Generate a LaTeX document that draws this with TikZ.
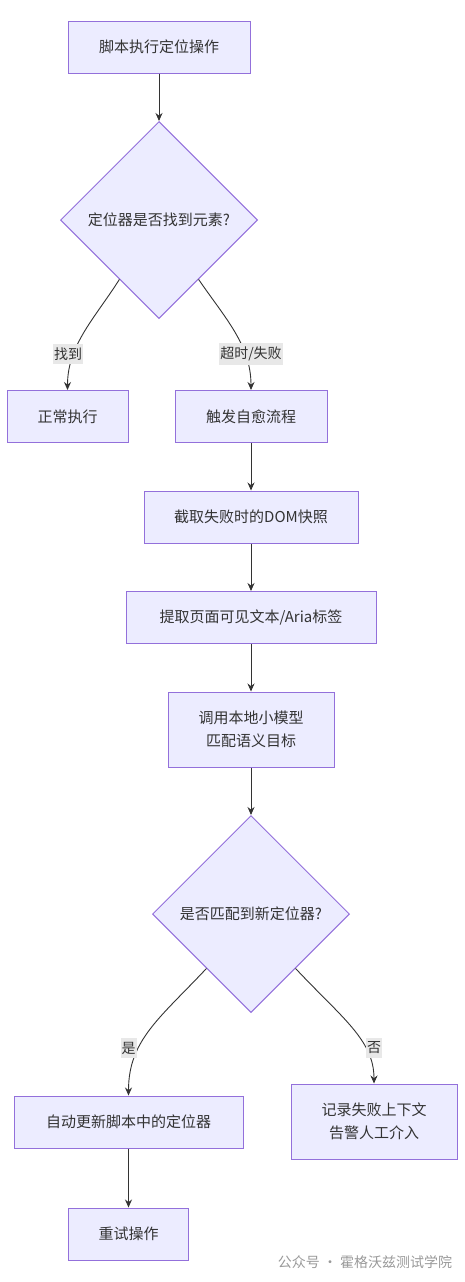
\documentclass[tikz,border=0pt]{standalone}
\usepackage{fontspec}
\setmainfont{Noto Sans CJK SC}
\usetikzlibrary{shapes.geometric,arrows.meta,calc}
\definecolor{boxfill}{HTML}{ECECFF}
\definecolor{boxline}{HTML}{9370DB}
\definecolor{txt}{HTML}{333333}
\definecolor{lblbg}{HTML}{E8E8E8}

\begin{document}
\begin{tikzpicture}[x=1pt,y=-1pt,
    box/.style={draw=boxline,fill=boxfill,line width=1pt,text=txt,font=\fontsize{15}{23}\selectfont,
        minimum height=52pt,align=center,inner sep=0pt},
    choice/.style={diamond,aspect=1,draw=boxline,fill=boxfill,line width=1pt,text=txt,
        font=\fontsize{15}{23}\selectfont,minimum width=197pt,minimum height=197pt,inner sep=0pt},
    lbl/.style={fill=lblbg,text=txt,font=\fontsize{14}{16}\selectfont,inner xsep=1pt,inner ysep=4pt},
    arr/.style={draw=txt,line width=0.9pt,-{Stealth[length=8pt,width=7pt]}}]
            \useasboundingbox (0,0) rectangle (465,1282);
            \node[box,minimum width=182pt] (start) at (159,47) {脚本执行定位操作};
            \node[choice] (found) at (159,220) {定位器是否找到元素?};
            \node[box,minimum width=121pt] (normal) at (67.5,416.5) {正常执行};
            \node[box,minimum width=152pt] (heal) at (251,416.5) {触发自愈流程};
            \node[box,minimum width=214pt] (dom) at (251,517) {截取失败时的DOM快照};
            \node[box,minimum width=250pt] (aria) at (251,617.5) {提取页面可见文本/Aria标签};
            \node[box,minimum width=166pt,minimum height=75pt] (model) at (251,729.5) {调用本地小模型\\匹配语义目标};
            \node[choice] (match) at (251,914) {是否匹配到新定位器?};
            \node[box,minimum width=229pt] (update) at (128.5,1122) {自动更新脚本中的定位器};
            \node[box,minimum width=166pt,minimum height=75pt] (alert) at (374,1121.5) {记录失败上下文\\告警人工介入};
            \node[box,minimum width=120pt] (retry) at (128.5,1234) {重试操作};

            \coordinate (f1) at ($(found.south)!0.4!(found.west)$);
            \coordinate (f2) at ($(found.south)!0.4!(found.east)$);
            \coordinate (m1) at ($(match.south)!0.45!(match.west)$);
            \coordinate (m2) at ($(match.south)!0.45!(match.east)$);

            \draw[arr] (start) -- (found);
            \draw[arr] (f1) .. controls (95,318) and (67.5,345) .. (normal.north);
            \draw[arr] (f2) .. controls (225,318) and (251,345) .. (heal.north);
            \draw[arr] (heal) -- (dom);
            \draw[arr] (dom) -- (aria);
            \draw[arr] (aria) -- (model);
            \draw[arr] (model) -- (match);
            \draw[arr] (m1) .. controls (160,1018) and (128.5,1040) .. (update.north);
            \draw[arr] (m2) .. controls (342,1018) and (374,1040) .. (alert.north);
            \draw[arr] (update) -- (retry);

            \node[lbl] (foundyes) at (68,354) {找到};
            \node[lbl] (foundno) at (251,354) {超时/失败};
            \node[lbl] (matchyes) at (128.5,1048) {是};
            \node[lbl] (matchno) at (374,1048) {否};
            % watermark
            \node[text=black!40,font=\fontsize{14}{16}\selectfont] (mark) at (365,1262) {公众号 · 霍格沃兹测试学院};
        \end{tikzpicture}
\end{document}
